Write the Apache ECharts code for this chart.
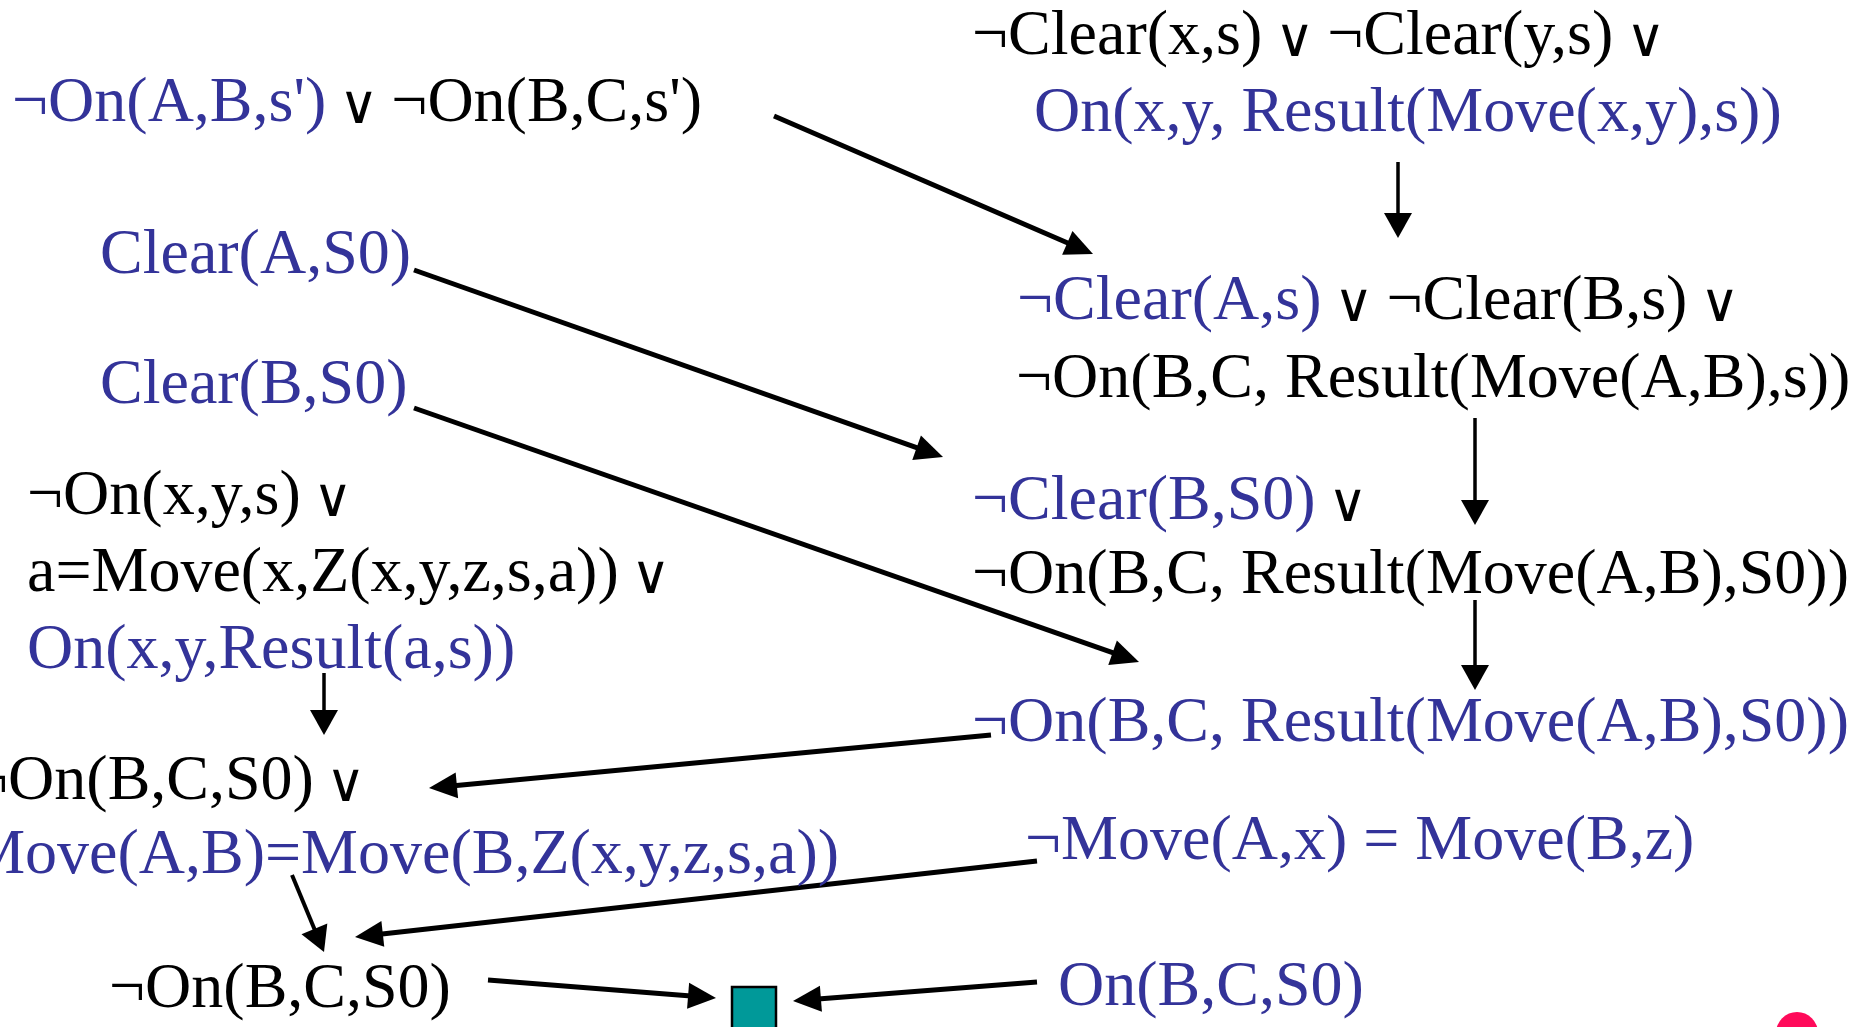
<!DOCTYPE html>
<html><head><meta charset="utf-8">
<script src="https://cdn.jsdelivr.net/npm/echarts@6.0.0/dist/echarts.min.js"></script>
<style>html,body{margin:0;padding:0;background:#fff;}#c{width:1854px;height:1027px;}</style>
</head><body><div id="c"></div>
<script>
// Clause texts: segments of [styleKey, text]; b = blue literal, k = black literal, v = "or" symbol, s = gap
const clauseTexts = [
  [['k','¬Clear(x,s)'],['s',' '],['v','∨'],['s',' '],['k','¬Clear(y,s)'],['s',' '],['v','∨']],
  [['b','On(x,y, Result(Move(x,y),s))']],
  [['b','¬Clear(A,s)'],['s',' '],['v','∨'],['s',' '],['k','¬Clear(B,s)'],['s',' '],['v','∨']],
  [['k','¬On(B,C, Result(Move(A,B),s))']],
  [['b','¬Clear(B,S0)'],['s',' '],['v','∨']],
  [['k','¬On(B,C, Result(Move(A,B),S0))']],
  [['b','¬On(B,C, Result(Move(A,B),S0))']],
  [['b','¬Move(A,x) = Move(B,z)']],
  [['b','On(B,C,S0)']],
  [['b',"¬On(A,B,s')"],['s',' '],['v','∨'],['s',' '],['k',"¬On(B,C,s')"]],
  [['b','Clear(A,S0)']],
  [['b','Clear(B,S0)']],
  [['k','¬On(x,y,s)'],['s',' '],['v','∨']],
  [['k','a=Move(x,Z(x,y,z,s,a))'],['s',' '],['v','∨']],
  [['b','On(x,y,Result(a,s))']],
  [['k','¬On(B,C,S0)'],['s',' '],['v','∨']],
  [['b','Move(A,B)=Move(B,Z(x,y,z,s,a))']],
  [['k','¬On(B,C,S0)']]
];
// Layout: anchor x, baseline y (pixel space of the hidden axes)
const clauseAnchorX = [972,1034,1017,1016,972,972,972,1025,1058, 12,100,100,27,27,27,-28,839,109];
const clauseBaseline = [53,130,318,396,518,592,740,858,1004, 120,272,402,513,590,667,798,872,1006];
const clauseAlign = ['left','left','left','left','left','left','left','left','left','left','left','left','left','left','left','left','right','left'];
// Resolution arrows: from (x1,y1) to tip (x2,y2)
const edgeFrom = [[774,116],[1398,162],[414,270],[414,408],[1475,418],[1475,600],[324,673],[991,735],[1037,861],[292,875],[488,980],[1037,982]];
const edgeTo   = [[1093,254],[1398,238],[943,457],[1139,662],[1475,525],[1475,690],[324,735],[429,788],[355,937],[324,952],[716,998],[793,1001]];
const edgeKind = ['thick','thin','thick','thick','thin','thin','thin','thick','thick','mid','thick','thick'];
// Empty clause box and decoration dot
const emptyClause = [[754,1009]];
const cornerDot = [[1797,1033]];

const SERIF = "'Liberation Serif','Times New Roman',serif";
const RICH = {
  b:{fill:'#333399', fontSize:64, fontFamily:SERIF},
  k:{fill:'#000000', fontSize:64, fontFamily:SERIF},
  s:{fill:'#000000', fontSize:50, fontFamily:SERIF},
  v:{fill:'#000000', fontSize:54, fontWeight:200, fontFamily:"'DejaVu Sans',sans-serif", verticalAlign:'bottom', lineHeight:58}
};
function richStr(i){ return clauseTexts[i].map(s => '{'+s[0]+'|'+s[1]+'}').join(''); }

const chart = echarts.init(document.getElementById('c'), null, {renderer:'canvas'});
chart.setOption({
  animation:false,
  backgroundColor:'#ffffff',
  grid:{left:0,right:0,top:0,bottom:0},
  xAxis:{type:'value',min:0,max:1854,show:false},
  yAxis:{type:'value',min:0,max:1027,inverse:true,show:false},
  series:[
    {
      type:'custom', coordinateSystem:'cartesian2d',
      data: edgeFrom.map((f,i)=>[f[0],f[1],edgeTo[i][0],edgeTo[i][1],i]),
      renderItem:function(params, api){
        const i = api.value(4);
        const s = api.coord([api.value(0), api.value(1)]);
        const e = api.coord([api.value(2), api.value(3)]);
        const kind = edgeKind[i];
        const lw = kind==='thick'?5:(kind==='mid'?4:3.5);
        const L = kind==='thick'?28:25;
        const W = kind==='thick'?13:14;
        const dx=e[0]-s[0], dy=e[1]-s[1], len=Math.hypot(dx,dy), ux=dx/len, uy=dy/len;
        const bx=e[0]-ux*L, by=e[1]-uy*L;
        return {type:'group', children:[
          {type:'line', shape:{x1:s[0],y1:s[1],x2:bx+ux*3,y2:by+uy*3}, style:{stroke:'#000',lineWidth:lw}},
          {type:'polygon', shape:{points:[[e[0],e[1]],[bx-uy*W,by+ux*W],[bx+uy*W,by-ux*W]]}, style:{fill:'#000'}}
        ]};
      }
    },
    {
      type:'custom', coordinateSystem:'cartesian2d',
      data: clauseAnchorX.map((x,i)=>[x,clauseBaseline[i],i]),
      renderItem:function(params, api){
        const i = api.value(2);
        const p = api.coord([api.value(0), api.value(1)]);
        return {type:'text', x:p[0], y:p[1]-16, style:{
          text: richStr(i), rich: RICH, fontSize:64, fontFamily:SERIF, fill:'#000',
          align: clauseAlign[i], verticalAlign:'middle'
        }};
      }
    },
    {
      type:'scatter', data: emptyClause, symbol:'rect', symbolSize:44, clip:false,
      itemStyle:{color:'#009999', borderColor:'#000', borderWidth:2.5, opacity:1}
    },
    {
      type:'scatter', data: cornerDot, symbol:'circle', symbolSize:42, clip:false,
      itemStyle:{color:'#ff0a5a', opacity:1}
    }
  ]
});
</script>
</body></html>
